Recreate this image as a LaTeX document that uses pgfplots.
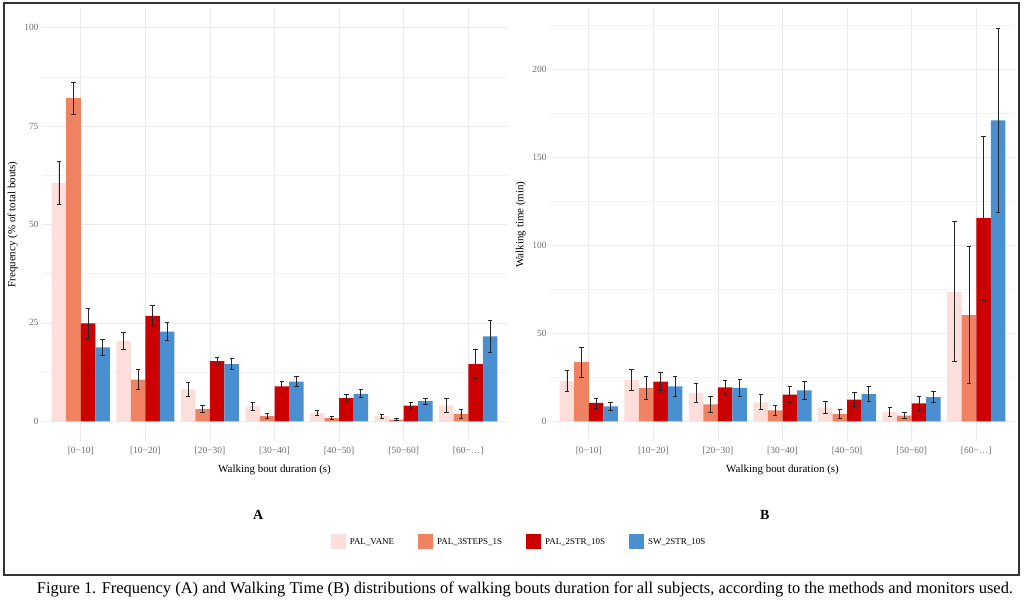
\documentclass[border=0pt]{standalone}
\usepackage{pgfplots}
\pgfplotsset{compat=1.18}
\usepackage{pgfplotstable}
\usepackage{fontspec}
\setmainfont{Liberation Serif}

\definecolor{cV}{HTML}{FDDEDA}
\definecolor{cS}{HTML}{EF8262}
\definecolor{cR}{HTML}{CC0000}
\definecolor{cB}{HTML}{4A8FCF}
\definecolor{gridc}{HTML}{EBEBEB}
\definecolor{tickc}{HTML}{6E6E6E}

% frequency (% of total bouts): mean and half error bar per method
\pgfplotstableread{
x V Ve S Se R Re B Be
1 60.5 5.5  82.1 4.05 24.9 3.85 18.8 2.05
2 20.4 2.1  10.6 2.45 26.8 2.55 22.8 2.3
3 8.1  1.7  3.1  0.9  15.3 0.95 14.5 1.35
4 3.8  0.95 1.4  0.6  8.9  1.3  10.1 1.3
5 2.1  0.7  0.8  0.4  5.9  0.95 7.0  1.05
6 1.3  0.5  0.4  0.25 4.0  0.9  5.1  0.8
7 4.0  1.75 1.9  1.05 14.5 3.65 21.6 4.0
}\freqtab

% walking time (min)
\pgfplotstableread{
x V Ve S Se R Re B Be
1 22.8 6.05  33.6 8.5   10.4  2.85 8.5   2.35
2 23.6 6.0   19.0 6.65  22.5  5.1  19.8  5.85
3 16.2 5.45  9.6  4.35  19.3  4.15 19.0  5.0
4 10.8 4.25  6.2  2.8   15.1  4.5  17.6  5.1
5 7.9  3.6   4.1  2.7   12.3  3.95 15.5  4.05
6 5.3  2.75  3.2  1.7   10.2  4.0  13.8  3.1
7 73.7 39.65 60.3 39.05 115.4 46.5 171.0 52.05
}\timetab

\pgfplotsset{
  panel/.style={
    anchor=south west, scale only axis,
    width=465bp, height=433bp,
    xmin=0.4, xmax=7.6,
    xtick={1,2,3,4,5,6,7},
    xticklabels={[0−10],[10−20],[20−30],[30−40],[40−50],[50−60],[60−\ldots]},
    ymajorgrids, yminorgrids, xmajorgrids,
    major grid style={gridc, line width=0.7bp},
    minor grid style={gridc!70, line width=0.45bp},
    axis line style={draw=none},
    tick style={draw=none},
    major tick length=0pt, minor tick length=0pt,
    /pgf/number format/assume math mode=true,
    ticklabel style={font=\fontsize{9.5}{10}\selectfont, text=tickc},
    xticklabel style={yshift=-2bp},
    label style={font=\fontsize{11}{12}\selectfont},
    xlabel={Walking bout duration (s)},
    xlabel style={at={(axis description cs:0.5,-0.067)}, anchor=center},
    ylabel style={at={(axis description cs:-0.063,0.5)}, anchor=center, rotate=0},
    clip=false,
  },
  bars/.style={ybar, bar width=0.225, bar shift=0pt, draw=none,
    error bars/y dir=both, error bars/y explicit,
    error bars/error mark=|,
    error bars/error bar style={black!85, line width=0.9bp},
    error bars/error mark options={black!85, line width=0.9bp, mark size=2.2bp}},
}

\begin{document}
\begin{tikzpicture}[x=1bp,y=1bp]
\path[use as bounding box] (0,0) rectangle (1024,602);
\draw[line width=1.4bp, black!80] (4,27) rectangle (1019,599);

\begin{axis}[panel, at={(42bp,161bp)},
  ymin=-5, ymax=105,
  ytick={0,25,50,75,100},
  minor ytick={12.5,37.5,62.5,87.5},
  ylabel={Frequency (\% of total bouts)},
  legend columns=4,
  legend style={at={(axis description cs:1.026,-0.233)}, anchor=center,
    draw=none, fill=none, font=\fontsize{9}{10}\selectfont,
    /tikz/every even column/.append style={column sep=22bp},
    /tikz/every odd column/.append style={column sep=2bp}},
  legend image code/.code={\fill[#1] (0bp,-7.5bp) rectangle (15bp,7.5bp);},
]
\addplot[bars, fill=cV] table[x expr=\thisrow{x}-0.3375, y=V, y error=Ve] {\freqtab};
\addplot[bars, fill=cS] table[x expr=\thisrow{x}-0.1125, y=S, y error=Se] {\freqtab};
\addplot[bars, fill=cR] table[x expr=\thisrow{x}+0.1125, y=R, y error=Re] {\freqtab};
\addplot[bars, fill=cB] table[x expr=\thisrow{x}+0.3375, y=B, y error=Be] {\freqtab};
\legend{PAL\_VANE, PAL\_3STEPS\_1S, PAL\_2STR\_10S, SW\_2STR\_10S}
\node[font=\fontsize{14}{15}\selectfont\bfseries] at (axis description cs:0.465,-0.171) {A};
\end{axis}

\begin{axis}[panel, at={(550bp,161bp)},
  ymin=-11.2, ymax=234.9,
  ytick={0,50,100,150,200},
  minor ytick={25,75,125,175,225},
  ylabel={Walking time (min)},
]
\addplot[bars, fill=cV] table[x expr=\thisrow{x}-0.3375, y=V, y error=Ve] {\timetab};
\addplot[bars, fill=cS] table[x expr=\thisrow{x}-0.1125, y=S, y error=Se] {\timetab};
\addplot[bars, fill=cR] table[x expr=\thisrow{x}+0.1125, y=R, y error=Re] {\timetab};
\addplot[bars, fill=cB] table[x expr=\thisrow{x}+0.3375, y=B, y error=Be] {\timetab};
\node[font=\fontsize{14}{15}\selectfont\bfseries] at (axis description cs:0.462,-0.171) {B};
\end{axis}

\node[font=\fontsize{16.5}{17}\selectfont] at (525,13) {Figure 1. Frequency (A) and Walking Time (B) distributions of walking bouts duration for all subjects, according to the methods and monitors used.};
\end{tikzpicture}
\end{document}
